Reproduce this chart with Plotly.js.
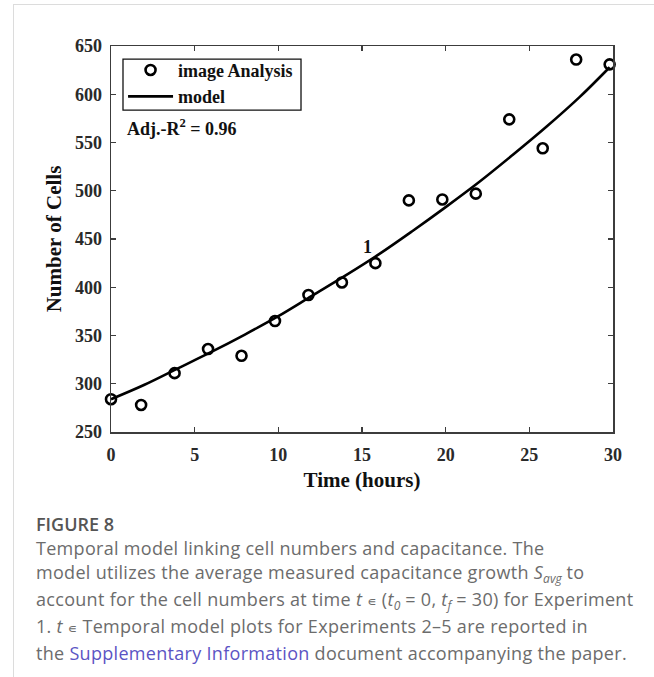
<!DOCTYPE html>
<html>
<head>
<meta charset="utf-8">
<script src="https://cdn.plot.ly/plotly-3.0.1.min.js"></script>
<style>
  html, body { margin: 0; padding: 0; background: #fff; }
  body { width: 654px; height: 677px; position: relative; overflow: hidden; }
  #frame { position: absolute; left: 13px; top: 4px; right: 0; bottom: 0;
           border-left: 1.5px solid #dcdcdc; border-top: 1.5px solid #dcdcdc; }
  #chart { position: absolute; left: 0; top: 0; width: 654px; height: 500px; }
  #caption { position: absolute; left: 36px; top: 512px; font-family: "Open Sans", Lato, sans-serif;
             color: #6c6c6c; font-size: 18px; line-height: 24px; white-space: nowrap; font-weight: 400;
             letter-spacing: 0.3px; }
  #caption .fig { color: #555; font-weight: 600; letter-spacing: 0; }
  #caption .sb { font-size: 12px; position: relative; top: 4px; letter-spacing: 0; }
  #caption .el { font-family: "DejaVu Sans", sans-serif; font-size: 13px; }
  #caption a { color: #5b54c4; text-decoration: none; }
</style>
</head>
<body>
<div id="frame"></div>
<div id="chart"></div>
<div id="caption">
  <div class="fig">FIGURE 8</div>
  Temporal model linking cell numbers and capacitance. The<br>
  model utilizes the average measured capacitance growth <i>S<span class="sb">avg</span></i> to<br>
  account for the cell numbers at time <i>t</i> <span class="el">∊</span> (<i>t<span class="sb">0</span></i> = 0, <i>t<span class="sb">f</span></i> = 30) for Experiment<br>
  1. <i>t</i> <span class="el">∊</span> Temporal model plots for Experiments 2–5 are reported in<br>
  the <a>Supplementary Information</a> document accompanying the paper.
</div>
<script>
// Measured cell counts (image analysis)
const timeHours = [0, 1.8, 3.8, 5.8, 7.8, 9.8, 11.8, 13.8, 15.8, 17.8, 19.8, 21.8, 23.8, 25.8, 27.8, 29.8];
const cellCounts = [284, 278, 311, 336, 329, 365, 392, 405, 425, 490, 491, 497, 574, 544, 636, 631];
// Model curve
const modelTime = [0, 2, 4, 6, 8, 10, 12, 14, 16, 18, 20, 22, 24, 26, 28, 29.8];
const modelCells = [284, 299, 316, 333, 351, 370, 391, 412, 434, 458, 483, 509, 537, 566, 597, 628];
const xTicks = [0, 5, 10, 15, 20, 25, 30];
const yTicks = [250, 300, 350, 400, 450, 500, 550, 600, 650];

const serif = "Liberation Serif, Times New Roman, serif";
const axisColor = "#3c3c3c";

const traces = [
  { x: modelTime, y: modelCells, type: "scatter", mode: "lines", name: "model",
    line: { color: "#000", width: 2.6, shape: "spline" }, legendrank: 2 },
  { x: timeHours, y: cellCounts, type: "scatter", mode: "markers", name: "image Analysis",
    marker: { symbol: "circle-open", size: 10, color: "#000", line: { width: 2.6, color: "#000" } },
    legendrank: 1, cliponaxis: false }
];

const axisCommon = {
  showline: true, linecolor: axisColor, linewidth: 1.5, mirror: "ticks",
  ticks: "inside", ticklen: 5, tickwidth: 1.3, tickcolor: axisColor,
  showgrid: false, zeroline: false, automargin: false,
  tickfont: { family: serif, size: 18, color: "#2a2a2a", weight: 700 }
};

const layout = {
  width: 654, height: 500,
  margin: { l: 111, r: 41, t: 46, b: 68 },
  paper_bgcolor: "rgba(0,0,0,0)", plot_bgcolor: "#fff",
  font: { family: serif, color: "#111" },
  xaxis: Object.assign({}, axisCommon, {
    range: [0, 30], tickvals: xTicks, ticktext: xTicks.map(String), ticklabelstandoff: 6,
    title: { text: "Time (hours)", font: { family: serif, size: 21, color: "#111", weight: 700 }, standoff: 8 }
  }),
  yaxis: Object.assign({}, axisCommon, {
    range: [250, 650], tickvals: yTicks, ticktext: yTicks.map(String), ticklabelstandoff: 4,
    title: { text: "Number of Cells", font: { family: serif, size: 21, color: "#111", weight: 700 }, standoff: 7 }
  }),
  showlegend: true,
  legend: {
    x: 0.024, y: 0.985, xanchor: "left", yanchor: "top",
    bgcolor: "rgba(0,0,0,0)", borderwidth: 0,
    font: { family: serif, size: 18, color: "#111", weight: 700 },
    tracegroupgap: 0, itemwidth: 45
  },
  shapes: [
    { type: "rect", xref: "paper", yref: "paper", x0: 0.0239, x1: 0.3785, y0: 0.834, y1: 0.966,
      line: { color: "#111", width: 1.3 }, fillcolor: "rgba(0,0,0,0)", layer: "above" }
  ],
  annotations: [
    { xref: "paper", yref: "paper", x: 0.028, y: 0.788, xanchor: "left", yanchor: "middle",
      text: "Adj.-R<sup>2</sup> = 0.96", showarrow: false,
      font: { family: serif, size: 18, color: "#111", weight: 700 } },
    { x: 15.34, y: 442, xref: "x", yref: "y", text: "1", showarrow: false,
      font: { family: serif, size: 18, color: "#111", weight: 700 } }
  ]
};

Plotly.newPlot("chart", traces, layout, { staticPlot: true, displayModeBar: false });
</script>
</body>
</html>
